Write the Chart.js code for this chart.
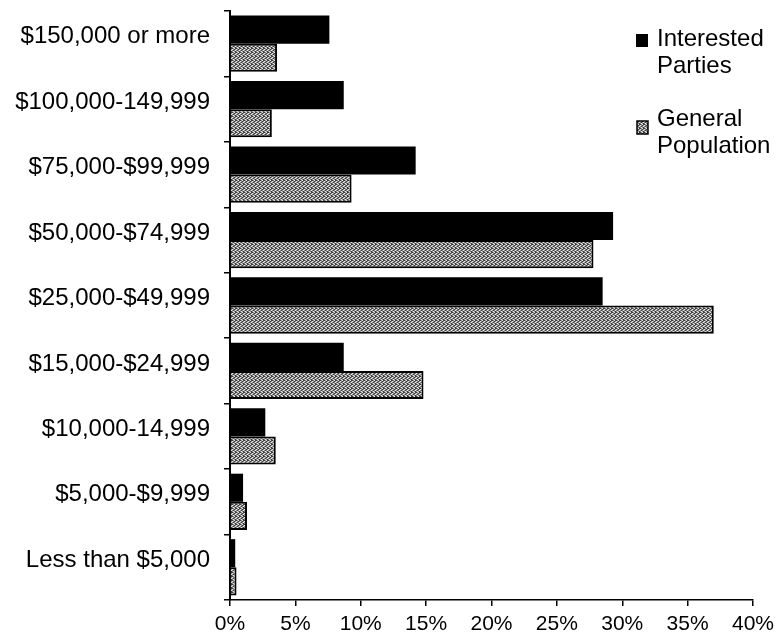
<!DOCTYPE html>
<html>
<head>
<meta charset="utf-8">
<title>Household income</title>
<script src="https://cdn.jsdelivr.net/npm/chart.js@4.4.1/dist/chart.umd.min.js"></script>
<style>
  html, body { margin: 0; padding: 0; background: #fff; }
  #wrap { width: 775px; height: 637px; }
</style>
</head>
<body>
<div id="wrap"><canvas id="incomeChart" width="775" height="637"></canvas></div>
<script>
const incomeLabels = [
  '$150,000 or more', '$100,000-149,999', '$75,000-$99,999', '$50,000-$74,999',
  '$25,000-$49,999', '$15,000-$24,999', '$10,000-14,999', '$5,000-$9,999', 'Less than $5,000'
];
const interestedParties = [7.6, 8.7, 14.2, 29.3, 28.5, 8.7, 2.7, 1.0, 0.4];
const generalPopulation = [3.6, 3.2, 9.3, 27.8, 37.0, 14.8, 3.5, 1.3, 0.5];
const seriesNames = [['Interested', 'Parties'], ['General', 'Population']];
const tickValues = [0, 5, 10, 15, 20, 25, 30, 35, 40];

// stippled grey fill for the second series
function stipple() {
  const c = document.createElement('canvas');
  c.width = 4; c.height = 4;
  const g = c.getContext('2d');
  g.fillStyle = '#8c8c8c';
  g.fillRect(0, 0, 4, 4);
  g.fillStyle = '#3a3a3a';
  [[0, 0], [2, 1], [1, 2], [3, 3], [3, 0]].forEach(p => g.fillRect(p[0], p[1], 1, 1));
  g.fillStyle = '#e8e8e8';
  [[2, 0], [0, 1], [3, 2], [1, 3]].forEach(p => g.fillRect(p[0], p[1], 1, 1));
  return g.createPattern(c, 'repeat');
}
const greyFill = stipple();

const font = 'Liberation Sans, Arial, sans-serif';

// legend sits inside the plot at top right
const sideLegend = {
  id: 'sideLegend',
  afterDraw(chart) {
    const ctx = chart.ctx;
    ctx.save();
    ctx.font = '24px ' + font;
    ctx.fillStyle = '#000';
    ctx.textBaseline = 'alphabetic';
    ctx.fillRect(636, 34, 12, 13);
    ctx.fillText(seriesNames[0][0], 657, 46);
    ctx.fillText(seriesNames[0][1], 657, 73);
    ctx.fillStyle = greyFill;
    ctx.fillRect(637, 121, 11, 13);
    ctx.strokeStyle = '#000';
    ctx.lineWidth = 1.5;
    ctx.strokeRect(637, 121, 11, 13);
    ctx.fillStyle = '#000';
    ctx.fillText(seriesNames[1][0], 657, 126);
    ctx.fillText(seriesNames[1][1], 657, 153);
    ctx.restore();
  }
};

new Chart(document.getElementById('incomeChart'), {
  type: 'bar',
  data: {
    labels: incomeLabels,
    datasets: [
      {
        label: seriesNames[0].join(' '),
        data: interestedParties,
        backgroundColor: '#000',
        borderWidth: 0
      },
      {
        label: seriesNames[1].join(' '),
        data: generalPopulation,
        backgroundColor: greyFill,
        borderColor: '#000',
        borderWidth: 2
      }
    ]
  },
  options: {
    indexAxis: 'y',
    responsive: false,
    animation: false,
    categoryPercentage: 0.86,
    barPercentage: 1,
    layout: { padding: { top: 11, right: 22, bottom: 0, left: 0 } },
    plugins: { legend: { display: false }, tooltip: { enabled: false } },
    scales: {
      x: {
        min: 0,
        max: 40,
        afterBuildTicks: s => { s.ticks = tickValues.map(v => ({ value: v })); },
        afterFit: s => { s.height = 37; s.paddingLeft = 0; s.paddingRight = 0; },
        border: { color: '#000', width: 1.5 },
        grid: { drawOnChartArea: false, color: '#000', tickLength: 6, lineWidth: 1.5 },
        ticks: {
          color: '#000',
          padding: 6,
          font: { family: font, size: 21 },
          callback: v => v + '%'
        }
      },
      y: {
        afterFit: s => { s.width = 230; s.paddingTop = 0; s.paddingBottom = 0; },
        border: { color: '#000', width: 2 },
        grid: { drawOnChartArea: false, color: '#000', tickLength: 6, lineWidth: 1.5 },
        ticks: {
          color: '#000',
          padding: 14,
          labelOffset: -7,
          font: { family: font, size: 24 }
        }
      }
    }
  },
  plugins: [sideLegend]
});
</script>
</body>
</html>
